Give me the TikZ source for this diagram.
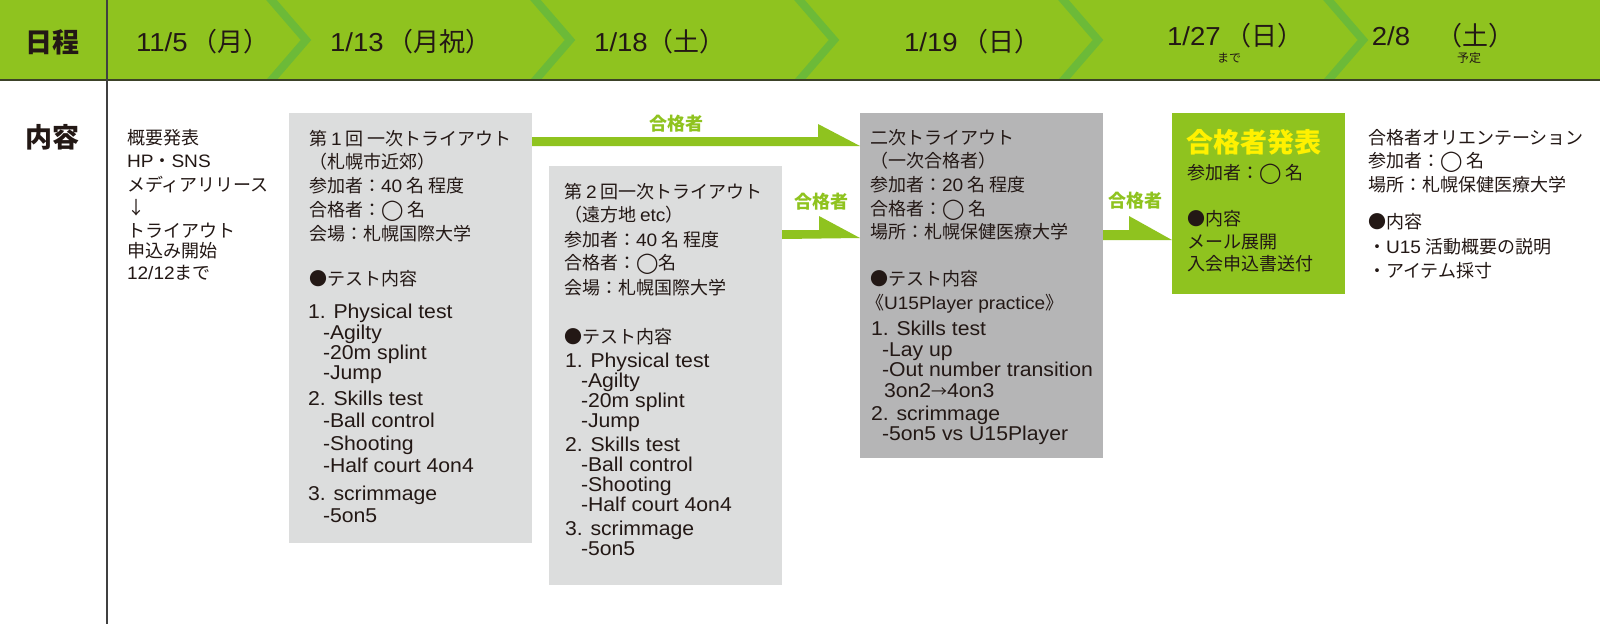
\documentclass[tikz,border=0pt]{standalone}
\usepackage{fontspec}
\setmainfont{Noto Sans CJK JP}
\newfontfamily\latf{Liberation Sans}[FakeStretch=1.06]
\newfontfamily\symf{DejaVu Sans}
\usetikzlibrary{calc}
\definecolor{bandgreen}{RGB}{143,195,31}
\definecolor{chevgreen}{RGB}{108,186,56}
\definecolor{lgray}{RGB}{220,221,221}
\definecolor{dgray}{RGB}{181,181,182}
\definecolor{ttlyellow}{RGB}{255,241,0}
\definecolor{txtblack}{RGB}{35,24,21}
\definecolor{ruleclr}{RGB}{60,66,40}
\newcommand\la[1]{{\latf #1}}
\newcommand\myring{\raisebox{0.3pt}{\symf\fontsize{20}{20}\selectfont ◯}}
\newcommand\txj[4]{\node[jtxt] (#1) at ({#2},{#3+6.8}) {#4};}
\newcommand\txl[4]{\node[ltxt] (#1) at ({#2},{#3+7.2}) {#4};}
\tikzset{
  jtxt/.style={anchor=base west, inner sep=0pt, outer sep=0pt, font=\fontsize{18}{18}\selectfont, text=txtblack},
  ltxt/.style={anchor=base west, inner sep=0pt, outer sep=0pt, font=\latf\fontsize{20}{20}\selectfont, text=txtblack},
  hdr/.style={inner sep=0pt, font=\fontsize{26}{26}\selectfont, text=txtblack},
  hsub/.style={inner sep=0pt, font=\fontsize{12}{12}\selectfont, text=txtblack},
  big/.style={inner sep=0pt, font=\bfseries\fontsize{27}{27}\selectfont, text=txtblack},
  lbl/.style={inner sep=0pt, font=\bfseries\fontsize{18}{18}\selectfont, text=bandgreen},
  boxs/.style={anchor=north west, inner sep=0pt, outer sep=0pt, draw=none},
  arr/.style={fill=bandgreen},
  chev/.style={draw=chevgreen, line width=8pt},
}
\begin{document}
\begin{tikzpicture}[x=1pt,y=-1pt]
\useasboundingbox (0,0) rectangle (1600,624);
\fill[white] (0,0) rectangle (1600,624);
% header band
\fill[bandgreen] (0,0) rectangle (1600,80);
\begin{scope}
  \clip (0,0) rectangle (1600,80);
  \foreach \cx in {268,532,796,1060,1325}{
    \draw[chev] (\cx,-4) -- (\cx+38,40) -- (\cx,84);
  }
\end{scope}
\draw[ruleclr, line width=2pt] (0,80) -- (1600,80);
\draw[black!75, line width=1.5pt] (107,0) -- (107,624);
% header texts
\node[big] (h0) at (52,42) {日程};
\node[hdr] (h1) at (203,42) {\la{11/5}\,（月）};
\node[hdr] (h2) at (411,42) {\la{1/13}\,（月祝）};
\node[hdr] (h3) at (660,42) {\la{1/18}（土）};
\node[hdr] (h4) at (972,42) {\la{1/19}\,（日）};
\node[hdr] (h5) at (1235,36) {\la{1/27}\,（日）};
\node[hsub] (h5s) at (1229,58) {まで};
\node[hdr] (h6) at (1443,36) {\la{2/8}　（土）};
\node[hsub] (h6s) at (1469,58) {予定};
\node[big] (c0) at (52,137) {内容};
% column 1
\txj{k1}{127}{138}{概要発表}
\txj{k2}{127}{161}{\la{HP}・\la{SNS}}
\txj{k3}{127}{185}{メディアリリース}
\txj{k4}{127}{208}{↓}
\txj{k5}{127}{231}{トライアウト}
\txj{k6}{127}{251}{申込み開始}
\txj{k7}{127}{273}{\la{12/12}まで}
% boxes
\node[boxs, fill=lgray, minimum width=243pt, minimum height=430pt] (b1) at (289,113) {};
\node[boxs, fill=lgray, minimum width=233pt, minimum height=419pt] (b2) at (549,166) {};
\node[boxs, fill=dgray, minimum width=243pt, minimum height=345pt] (b3) at (860,113) {};
\node[boxs, fill=bandgreen, minimum width=173pt, minimum height=181pt] (b4) at (1172,113) {};
% box 1
\txj{a1}{309}{139}{第 \la{1} 回 一次トライアウト}
\txj{a2}{309}{162}{（札幌市近郊）}
\txj{a3}{309}{186}{参加者：\la{40} 名 程度}
\txj{a4}{309}{210}{合格者：\myring\ 名}
\txj{a5}{309}{234}{会場：札幌国際大学}
\txj{a6}{309}{279}{●テスト内容}
\txl{a7}{308}{311}{1. Physical test}
\txl{a8}{323}{332}{-Agilty}
\txl{a9}{323}{352}{-20m splint}
\txl{a10}{323}{372}{-Jump}
\txl{a11}{308}{398}{2. Skills test}
\txl{a12}{323}{420}{-Ball control}
\txl{a13}{323}{443}{-Shooting}
\txl{a14}{323}{465}{-Half court 4on4}
\txl{a15}{308}{493}{3. scrimmage}
\txl{a16}{323}{515}{-5on5}
% box 2
\txj{d1}{564}{192}{第 \la{2} 回一次トライアウト}
\txj{d2}{564}{215}{（遠方地 \la{etc}）}
\txj{d3}{564}{240}{参加者：\la{40} 名 程度}
\txj{d4}{564}{263}{合格者：\myring 名}
\txj{d5}{564}{288}{会場：札幌国際大学}
\txj{d6}{564}{337}{●テスト内容}
\txl{d7}{565}{360}{1. Physical test}
\txl{d8}{581}{380}{-Agilty}
\txl{d9}{581}{400}{-20m splint}
\txl{d10}{581}{420}{-Jump}
\txl{d11}{565}{444}{2. Skills test}
\txl{d12}{581}{464}{-Ball control}
\txl{d13}{581}{484}{-Shooting}
\txl{d14}{581}{504}{-Half court 4on4}
\txl{d15}{565}{528}{3. scrimmage}
\txl{d16}{581}{548}{-5on5}
% box 3
\txj{e1}{870}{138}{二次トライアウト}
\txj{e2}{870}{161}{（一次合格者）}
\txj{e3}{870}{185}{参加者：\la{20} 名 程度}
\txj{e4}{870}{209}{合格者：\myring\ 名}
\txj{e5}{870}{232}{場所：札幌保健医療大学}
\txj{e6}{870}{279}{●テスト内容}
\txj{e7}{866}{303}{《\la{U15Player practice}》}
\txl{e8}{871}{328}{1. Skills test}
\txl{e9}{882}{349}{-Lay up}
\txl{e10}{882}{369}{-Out number transition}
\txl{e11}{884}{390}{3on2{\rmfamily\fontsize{16}{16}\selectfont →}4on3}
\txl{e12}{871}{413}{2. scrimmage}
\txl{e13}{882}{433}{-5on5 vs U15Player}
% box 4
\node[big, text=ttlyellow, anchor=base west, font=\bfseries\fontsize{27}{27}\selectfont] (f1) at (1186,152) {合格者発表};
\txj{f2}{1187}{173}{参加者：\myring\ 名}
\txj{f3}{1187}{219}{●内容}
\txj{f4}{1187}{242}{メール展開}
\txj{f5}{1187}{264}{入会申込書送付}
% column 6
\txj{g1}{1368}{138}{合格者オリエンテーション}
\txj{g2}{1368}{161}{参加者：\myring\ 名}
\txj{g3}{1368}{185}{場所：札幌保健医療大学}
\txj{g4}{1368}{222}{●内容}
\txj{g5}{1368}{247}{・\la{U15} 活動概要の説明}
\txj{g6}{1368}{271}{・アイテム採寸}
% arrows
\fill[arr] ($(b1.north east)+(0,24)$) -- ++(286,0) -- ++(0,-13)
  -- ($(b3.north west)+(0,33)$) -- ($(b1.north east)+(0,33)$) -- cycle;
\fill[arr] ($(b2.north east)+(0,64)$) -- ++(37,0) -- ++(0,-14)
  -- ($(b3.north west)+(0,125)$) -- ($(b2.north east)+(0,73)$) -- cycle;
\fill[arr] ($(b3.north east)+(0,117)$) -- ++(26,0) -- ++(0,-14)
  -- ($(b4.north west)+(0,127)$) -- ($(b3.north east)+(0,127)$) -- cycle;
\node[lbl] (l1) at (676,124) {合格者};
\node[lbl] (l2) at (821,202) {合格者};
\node[lbl] (l3) at (1135,201) {合格者};
\end{tikzpicture}
\end{document}
